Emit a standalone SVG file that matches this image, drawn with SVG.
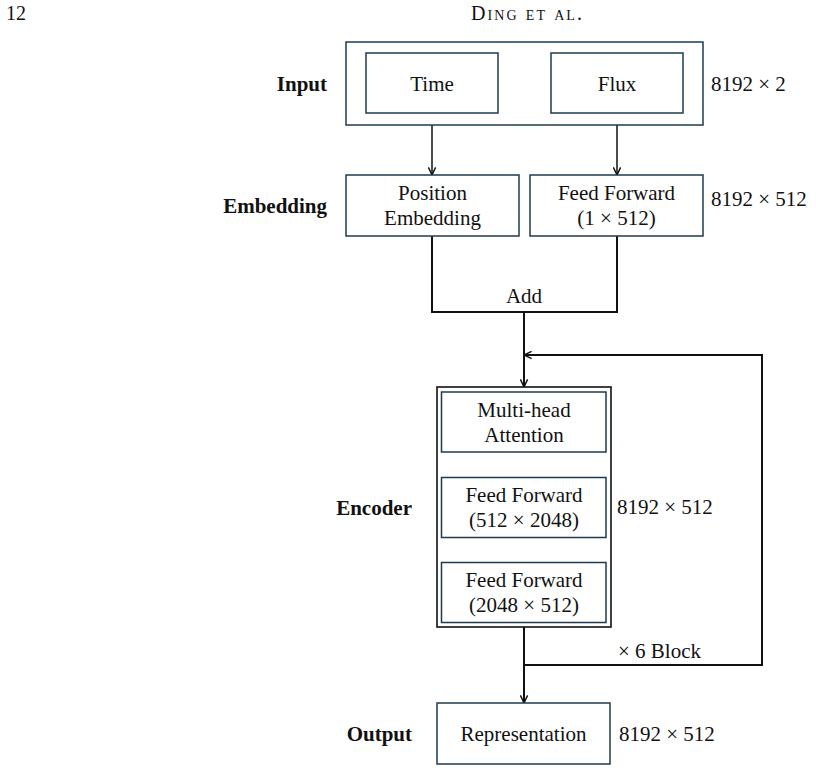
<svg xmlns="http://www.w3.org/2000/svg" width="816" height="772" viewBox="0 0 816 772">
<style>
text{font-family:"Liberation Serif","Times New Roman",serif;font-size:21px;fill:#111}
.c{text-anchor:middle}
.lbl{font-weight:bold;text-anchor:end}
.box{fill:#fff;stroke:#1f3b4d;stroke-width:1.5}
.outer{fill:#fff;stroke:#111;stroke-width:1.6}
.ln{fill:none;stroke:#111;stroke-width:2}
.thin{fill:none;stroke:#111;stroke-width:1.5}
.hdr{font-size:20px}
</style>
<defs>
<marker id="ah" markerUnits="userSpaceOnUse" viewBox="0 0 10 10" refX="9.5" refY="5" markerWidth="9" markerHeight="9" orient="auto">
<path d="M1,1 L9.5,5 L1,9" fill="none" stroke="#111" stroke-width="1.6"/>
</marker>
</defs>
<rect width="816" height="772" fill="#fff"/>
<g id="header">
<text class="hdr" x="6" y="20">12</text>
<text class="hdr" x="471" y="20" style="font-variant:small-caps" textLength="111" lengthAdjust="spacing">Ding et al.</text>
</g>
<g id="connectors">
<path class="thin" d="M432,125 V175" marker-end="url(#ah)"/>
<path class="thin" d="M617,125 V175" marker-end="url(#ah)"/>
<path class="ln" d="M432,236 V312 H617 V236"/>
<path class="ln" d="M524,312 V387" marker-end="url(#ah)"/>
<path class="ln" d="M524,627 V703" marker-end="url(#ah)"/>
<path class="ln" d="M524,665 H762 V355 H524" marker-end="url(#ah)"/>
<text class="c" x="524" y="303">Add</text>
<text x="618" y="658">× 6 Block</text>
</g>
<g id="input">
<text class="lbl" x="327" y="91">Input</text>
<rect class="box" x="346" y="42" width="357" height="83"/>
<g id="time"><rect class="box" x="366" y="53" width="132" height="60"/><text class="c" x="432" y="91">Time</text></g>
<g id="flux"><rect class="box" x="551" y="53" width="132" height="60"/><text class="c" x="617" y="91">Flux</text></g>
<text x="711" y="91">8192 × 2</text>
</g>
<g id="embedding">
<text class="lbl" x="327" y="213">Embedding</text>
<g id="pos"><rect class="box" x="346" y="175" width="173" height="61"/><text class="c" x="432.5" y="200">Position</text><text class="c" x="432.5" y="225">Embedding</text></g>
<g id="ff0"><rect class="box" x="530" y="175" width="173" height="61"/><text class="c" x="616.5" y="200">Feed Forward</text><text class="c" x="616.5" y="225">(1 × 512)</text></g>
<text x="711" y="206">8192 × 512</text>
</g>
<g id="encoder">
<text class="lbl" x="412" y="515">Encoder</text>
<rect class="outer" x="437" y="387" width="174" height="240"/>
<g id="mha"><rect class="box" x="441.5" y="392" width="164.5" height="60"/><text class="c" x="524" y="416.5">Multi-head</text><text class="c" x="524" y="441.5">Attention</text></g>
<g id="ff1"><rect class="box" x="441.5" y="477.5" width="164.5" height="60"/><text class="c" x="524" y="502">Feed Forward</text><text class="c" x="524" y="527">(512 × 2048)</text></g>
<g id="ff2"><rect class="box" x="441.5" y="562.5" width="164.5" height="60"/><text class="c" x="524" y="587">Feed Forward</text><text class="c" x="524" y="612">(2048 × 512)</text></g>
<text x="617" y="514">8192 × 512</text>
</g>
<g id="output">
<text class="lbl" x="412" y="741">Output</text>
<rect class="box" x="437" y="703" width="173" height="61"/>
<text class="c" x="523.5" y="741">Representation</text>
<text x="619" y="741">8192 × 512</text>
</g>
</svg>
